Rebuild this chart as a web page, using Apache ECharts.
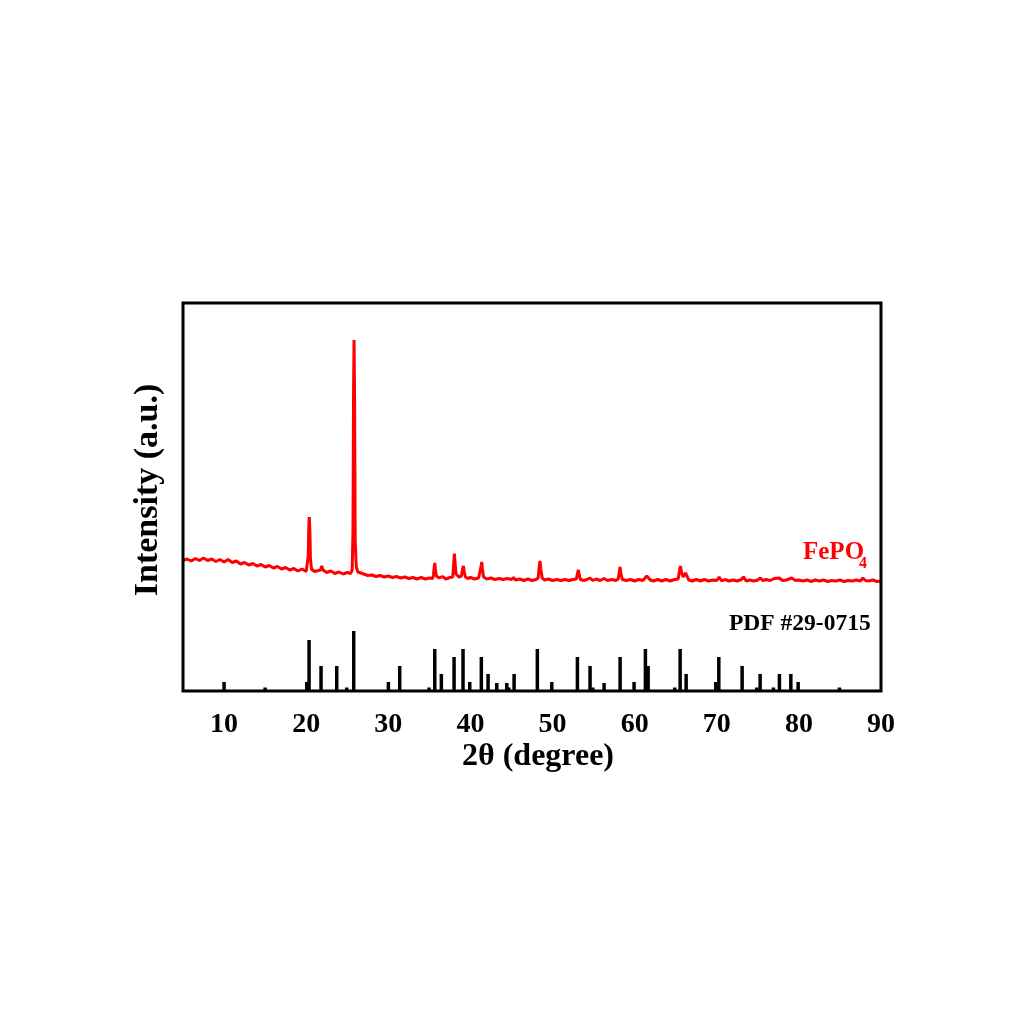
<!DOCTYPE html>
<html>
<head>
<meta charset="utf-8">
<script src="https://cdn.jsdelivr.net/npm/echarts@6/dist/echarts.min.js"></script>
<style>
html,body{margin:0;padding:0;background:#fff;}
#chart{width:1024px;height:1024px;}
</style>
</head>
<body>
<div id="chart"></div>
<script>
// X-axis tick labels (2θ, degree)
const xTicks = [10, 20, 30, 40, 50, 60, 70, 80, 90];

// Measured FePO4 XRD pattern: [2θ, intensity (a.u., arbitrary scale)]
const fepo4Pattern = [
[5.0,130.5],[5.5,132],[6.0,130],[6.5,132.5],[7.0,130.5],[7.5,133],[8.0,130.5],[8.5,132],[9.0,129.5],[9.5,131.5],
[10.0,129],[10.5,131.5],[11.0,128.5],[11.5,130],[12.0,127],[12.5,128.5],[13.0,126],[13.5,127.5],[14.0,125],[14.5,126.5],
[15.0,124],[15.5,125.5],[16.0,123],[16.5,124.5],[17.0,122],[17.5,123.5],[18.0,121],[18.5,122.5],[19.0,120],[19.5,122],
[20.0,119.5],[20.15,121],[20.25,135],[20.32,165],[20.38,174],[20.45,160],[20.52,132],[20.65,122],
[21.0,119.5],[21.5,120.5],[21.75,121],[21.9,125],[22.05,121],[22.5,118.5],[23.0,120],[23.5,117.5],[24.0,119],[24.5,117],[25.0,118.5],[25.4,117.5],
[25.6,121],[25.7,160],[25.77,300],[25.83,351],[25.9,290],[25.97,150],[26.1,124],[26.3,119],
[26.5,117],[27.0,117],[27.5,115.5],[28.0,116],[28.5,114.5],[29.0,115.5],[29.5,114],[30.0,115],[30.5,113.5],[31.0,114.5],
[31.5,113],[32.0,114],[32.5,112.5],[33.0,113.5],[33.5,112],[34.0,113.5],[34.5,112],[35.0,113],[35.4,112.5],
[35.5,116],[35.6,124],[35.66,128],[35.73,122],[35.85,115],
[36.2,113],[36.6,114.5],[37.0,112],[37.5,113.5],[37.85,114],
[37.95,126],[38.05,137.5],[38.13,128],[38.25,117],
[38.6,114],[38.9,115],[39.05,122],[39.15,125],[39.25,119],[39.4,114],
[39.7,112.5],[40.0,113.5],[40.5,112],[41.0,113],
[41.2,115],[41.3,125],[41.38,129],[41.46,122],[41.6,114],
[42.0,112],[42.5,113],[43.0,111.5],[43.5,112.5],[44.0,111.5],[44.5,112.5],[45.0,111.5],[45.25,113.5],[45.5,111],
[46.0,112],[46.5,110.5],[47.0,112],[47.5,110.5],[48.0,111.5],
[48.25,113],[48.4,126],[48.48,130],[48.58,121],[48.75,113],
[49.0,111],[49.5,112],[50.0,110.5],[50.5,111.5],[51.0,110.5],[51.5,111.5],[52.0,110.5],[52.5,111.5],
[52.9,112],[53.05,118],[53.15,121],[53.25,116],[53.4,111.5],
[53.8,110.5],[54.2,111.5],[54.57,113],[54.9,110.5],[55.3,112],[55.8,110.5],[56.28,112.5],[56.7,110.5],[57.2,111.5],[57.7,110.5],
[58.0,112],[58.15,120],[58.23,124],[58.32,118],[58.5,111.5],
[59.0,110.5],[59.5,111.5],[60.0,110],[60.5,111.5],[61.0,110.5],[61.48,115],[61.9,111],[62.3,110],[62.8,111.5],[63.3,110],
[63.8,111.5],[64.3,110],[64.9,111.5],
[65.3,112],[65.48,121],[65.58,125],[65.7,119],[65.9,114],[66.2,118],[66.35,116],[66.6,111],
[67.0,110],[67.5,111.5],[68.0,110],[68.5,111.5],[69.0,110],[69.5,111],[70.0,110.5],[70.29,114],[70.6,110],
[71.0,111.5],[71.5,110],[72.0,111],[72.5,110],[73.0,111.5],[73.25,114],[73.6,110],[74.0,111],[74.5,110],[75.0,111],
[75.3,113],[75.6,110.5],[76.0,111.5],[76.5,110.5],[77.0,112.5],[77.6,113],[78.0,110.5],[78.5,111],[79.1,113],[79.6,110.5],
[80.0,111],[80.5,110],[81.0,111],[81.5,109.5],[82.0,111],[82.5,110],[83.0,111],[83.5,109.5],[84.0,110.5],[84.5,110],
[85.0,111],[85.5,109.5],[86.0,110.5],[86.5,110],[87.0,111],[87.5,110],[87.79,113],[88.1,110.5],[88.5,110],[89.0,111],
[89.5,109.5],[90.0,110]
];

// Reference card PDF #29-0715: stick positions (2θ) and relative heights
const pdfPositions = [10.0,15.0,20.07,20.35,21.81,23.72,24.94,25.79,30.01,31.39,34.96,35.66,36.46,38.01,39.10,39.92,41.33,42.15,43.21,44.43,44.67,45.32,48.15,49.91,53.03,54.57,54.90,56.28,58.23,59.93,61.31,61.64,64.89,65.54,66.27,69.88,70.25,73.09,74.88,75.28,76.90,77.63,79.02,79.91,84.94];
const pdfHeights   = [9,3.5,9,51,25,25,3.5,60,9,25,3.5,42,17,34,42,9,34,17,8,8,3.5,17,42,9,34,25,3.5,8,34,9,42,25,3.5,42,17,9,34,25,3.5,17,3.5,17,17,9,3.5];

const seriesLabel = 'FePO';
const cardLabel = 'PDF #29-0715';
const xName = '2θ (degree)';
const yName = 'Intensity (a.u.)';

const FONT = "'Liberation Serif','Times New Roman',serif";
const chart = echarts.init(document.getElementById('chart'), null, {renderer:'canvas'});

const sticks = pdfPositions.map((p, i) => [p, pdfHeights[i]]);

chart.setOption({
  backgroundColor: '#fff',
  animation: false,
  grid: {left: 183, right: 143, top: 303, bottom: 333, show: true, borderColor: '#000', borderWidth: 3, backgroundColor: 'transparent', z: 10},
  xAxis: {
    type: 'value', min: 5, max: 90,
    axisLine: {show: false},
    axisTick: {show: false},
    splitLine: {show: false},
    axisLabel: {
      customValues: xTicks,
      margin: 20,
      fontFamily: FONT, fontWeight: 'bold', fontSize: 28, color: '#000'
    }
  },
  yAxis: {
    type: 'value', min: 0, max: 388,
    axisLine: {show: false}, axisTick: {show: false}, axisLabel: {show: false}, splitLine: {show: false}
  },
  series: [
    {
      type: 'bar', data: sticks, barWidth: 3.5, itemStyle: {color: '#000'}, silent: true
    },
    {
      type: 'line', data: fepo4Pattern, showSymbol: false, symbol: 'none',
      lineStyle: {color: '#ff0000', width: 3}, silent: true
    }
  ],
  graphic: [
    {type: 'text', x: 803, y: 553, style: {text: seriesLabel, fill: '#ff0000', font: "bold 25px " + FONT, textAlign: 'left', textVerticalAlign: 'middle'}},
    {type: 'text', x: 859, y: 564, style: {text: '4', fill: '#ff0000', font: "bold 16px " + FONT, textAlign: 'left', textVerticalAlign: 'middle'}},
    {type: 'text', x: 729, y: 624, style: {text: cardLabel, fill: '#000', font: "bold 23.5px " + FONT, textAlign: 'left', textVerticalAlign: 'middle'}},
    {type: 'text', x: 538, y: 757, style: {text: xName, fill: '#000', font: "bold 32px " + FONT, textAlign: 'center', textVerticalAlign: 'middle'}},
    {type: 'text', x: 148, y: 490, rotation: Math.PI/2, style: {text: yName, fill: '#000', font: "bold 34px " + FONT, textAlign: 'center', textVerticalAlign: 'middle'}}
  ]
});
</script>
</body>
</html>
